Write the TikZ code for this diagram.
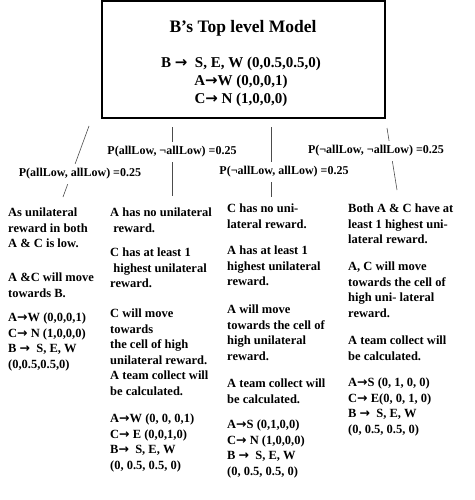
\documentclass[tikz,border=0pt]{standalone}
\usepackage{fontspec}
\setmainfont{Liberation Serif}
\newfontfamily\arfont{DejaVu Sans}
\usepackage{tikz}
\usetikzlibrary{calc}
\tikzset{>=latex}
\tikzset{
  modelbox/.style={draw, line width=2pt, minimum width=283pt, minimum height=117pt, inner sep=0pt},
  prob/.style={fill=white, inner xsep=2pt, inner ysep=5pt, font=\fontsize{12}{14}\selectfont\bfseries},
  branch/.style={draw=black!70, line width=0.6pt},
  case/.style={anchor=north west, align=left, inner sep=0pt, font=\fontsize{12.5}{15.5}\selectfont\bfseries}
}
\newcommand{\ra}{{\arfont\bfseries →}}

\begin{document}
\begin{tikzpicture}[x=1pt,y=-1pt]
  \useasboundingbox (0,0) rectangle (474,500);
  % top level model
  \node[modelbox] (box) at (243.5,59.5) {};
  \node[font=\fontsize{17.5}{20}\selectfont\bfseries] (title) at (243,28) {B’s Top level Model};
  \node[align=center, font=\fontsize{15}{18}\selectfont\bfseries] (model) at (241,81.5)
       {B \ra{}\ \ S, E, W (0,0.5,0.5,0)\\ A\ra W (0,0,0,1)\\ C\ra{} N (1,0,0,0)};
  % branches, the labels are drawn over them
  \coordinate (s1) at (89,126);  \coordinate (e1) at (63,197);
  \coordinate (s2) at (172,127); \coordinate (e2) at (172,196);
  \coordinate (s3) at (271,127); \coordinate (e3) at (271,197);
  \coordinate (s4) at (387,128); \coordinate (e4) at (397,190);
  \foreach \i in {1,...,4}
    \draw[branch] (s\i) -- (e\i);
  \node[prob] (p1) at (80,174)  {P(allLow, allLow) =0.25};
  \node[prob] (p2) at (172,152) {P(allLow, ¬allLow) =0.25};
  \node[prob] (p3) at (284,172) {P(¬allLow, allLow) =0.25};
  \node[prob] (p4) at (376,151) {P(¬allLow, ¬allLow) =0.25};
  % the four cases
  \node[case] (c1) at (8,208)
       {As unilateral\\ reward in both\\ A \& C is low.\\[18.5pt]
        A \&C will move\\ towards B.\\[9pt]
        A\ra W (0,0,0,1)\\ C\ra{} N (1,0,0,0)\\ B \ra{}\ \ S, E, W\\ (0,0.5,0.5,0)};
  \node[case] (c2) at (110,208)
       {A has no unilateral\\ \ reward.\\[9pt]
        C has at least 1\\ \ highest unilateral\\ reward.\\[14.5pt]
        C will move\\ towards\\ the cell of high\\ unilateral reward.\\ A team collect will\\ be calculated.\\[12pt]
        A\ra W (0, 0, 0,1)\\ C\ra{} E (0,0,1,0)\\ B\ra{}\ \ S, E, W\\ (0, 0.5, 0.5, 0)};
  \node[case] (c3) at (227,204)
       {C has no uni-\\ lateral reward.\\[11pt]
        A has at least 1\\ highest unilateral\\ reward.\\[12.5pt]
        A will move\\ towards the cell of\\ high unilateral\\ reward.\\[12pt]
        A team collect will\\ be calculated.\\[10pt]
        A\ra S (0,1,0,0)\\ C\ra{} N (1,0,0,0)\\ B \ra{}\ \ S, E, W\\ (0, 0.5, 0.5, 0)};
  \node[case] (c4) at (348,204)
       {Both A \& C have at\\ least 1 highest uni-\\ lateral reward.\\[11.5pt]
        A, C will move\\ towards the cell of\\ high uni- lateral\\ reward.\\[12pt]
        A team collect will\\ be calculated.\\[11pt]
        A\ra S (0, 1, 0, 0)\\ C\ra{} E(0, 0, 1, 0)\\ B \ra{}\ \ S, E, W\\ (0, 0.5, 0.5, 0)};
\end{tikzpicture}
\end{document}
